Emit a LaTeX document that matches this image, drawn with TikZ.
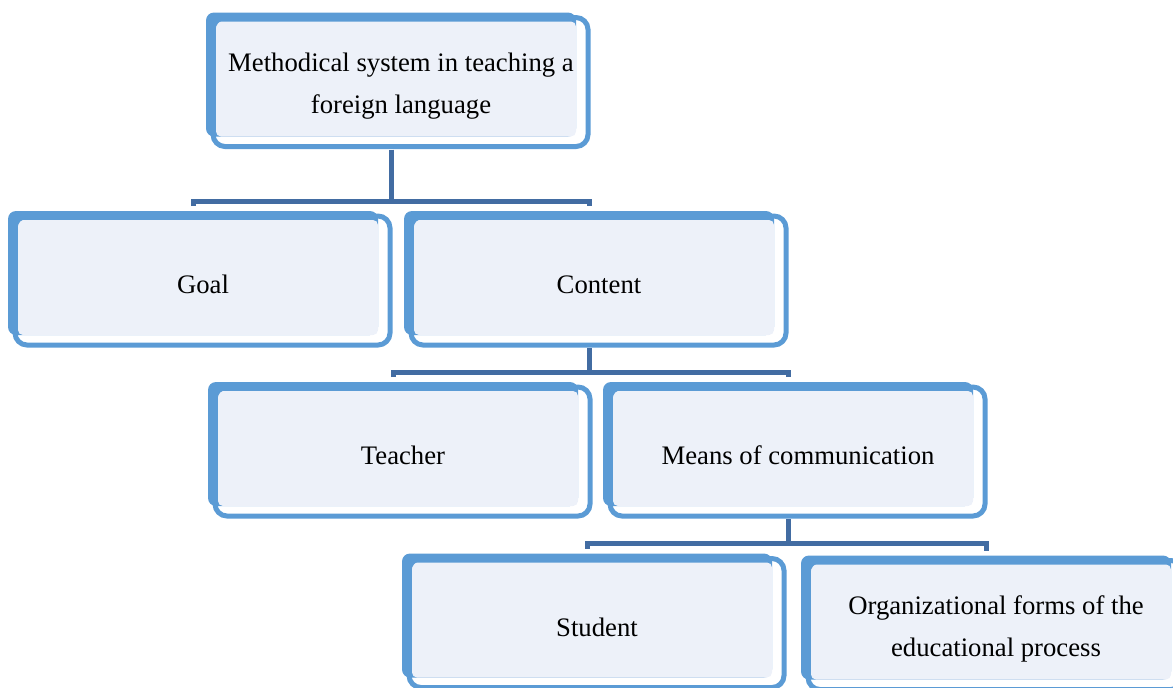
\documentclass[tikz,border=0pt]{standalone}
\usepackage{fontspec}
\setmainfont{Liberation Serif}
\usepackage{xcolor}
\usepackage{tikz}
\usetikzlibrary{backgrounds}
\definecolor{boxblue}{RGB}{91,155,213}
\definecolor{boxfill}{RGB}{237,241,249}
\definecolor{linkblue}{RGB}{66,108,162}
\tikzstyle{boxtext} = [inner sep=0pt,align=center,font=\fontsize{15.2}{24}\selectfont]
\tikzstyle{boxback} = [fill=boxblue,rounded corners=0.16cm]
\tikzstyle{boxface} = [fill=boxfill,rounded corners=0.1cm]
\tikzstyle{boxrim} = [draw=boxblue,line width=0.1cm,rounded corners=0.24cm]
\tikzstyle{link} = [draw=linkblue,line width=0.1cm]

\begin{document}
\begin{tikzpicture}[x=0.02cm,y=-0.02cm]
	\useasboundingbox (0,0) rectangle (1173,687);
	
	%Nodes
	\node[boxtext] (sys) at (401,86) {Methodical system in teaching a\\foreign language};
	\node[boxtext] (goal) at (203,284.5) {Goal};
	\node[boxtext] (content) at (599,284.5) {Content};
	\node[boxtext] (teacher) at (403,455.5) {Teacher};
	\node[boxtext] (means) at (798,455.5) {Means of communication};
	\node[boxtext] (student) at (597,627) {Student};
	\node[boxtext] (forms) at (996,629) {Organizational forms of the\\educational process};
	
	%Boxes
	\begin{scope}[on background layer]
		\foreach \n in {sys,goal,content,teacher,means,student,forms} {
			\path[boxback] ([shift={(-195,-73.5)}]\n.center) rectangle ([shift={(175,50.5)}]\n.center);
			\path[boxface] ([shift={(-185,-64.5)}]\n.center) rectangle ([shift={(175,50.5)}]\n.center);
			\path[boxrim] ([shift={(-188,-68.5)}]\n.center) rectangle ([shift={(187,60.5)}]\n.center);
		}
	\end{scope}
	
	%Lines
	\foreach \p/\a/\b in {sys/goal/content,content/teacher/means,means/student/forms} {
		\coordinate (bus) at ([shift={(0,-83.5)}]\a.center);
		\draw[link] ([shift={(-10,63.5)}]\p.center) -- ([shift={(-10,0)}]\p.center |- bus);
		\draw[link] ([shift={(-10,-78.5)}]\a.center) -- ([shift={(-10,0)}]\a.center |- bus) -- ([shift={(-10,0)}]\b.center |- bus) -- ([shift={(-10,-78.5)}]\b.center);
	}
	
\end{tikzpicture}
\end{document}
